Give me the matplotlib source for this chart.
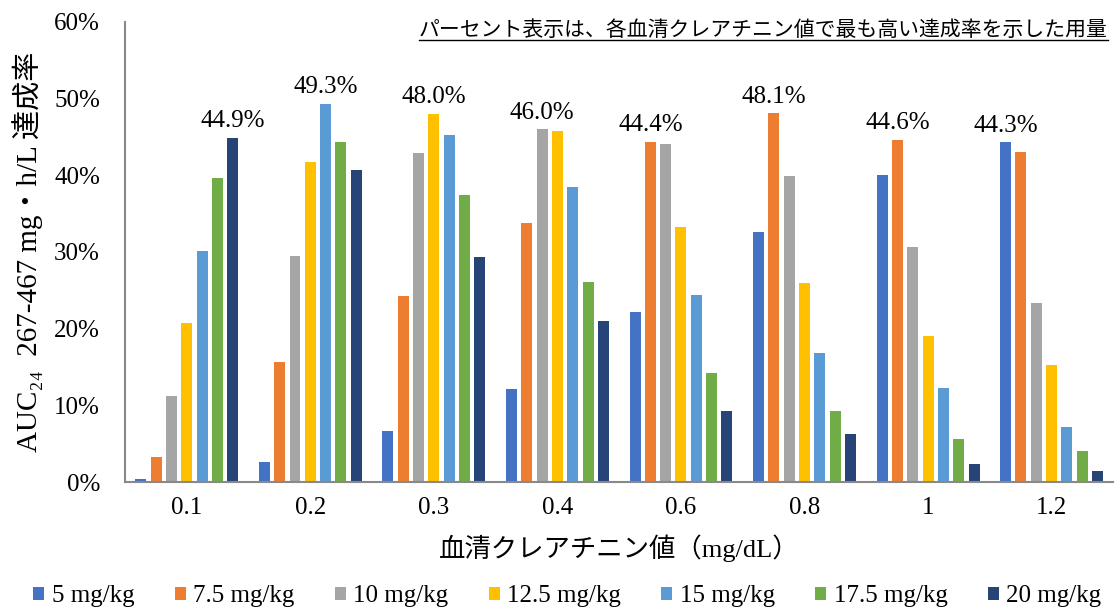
import numpy as np
import matplotlib
matplotlib.use("Agg")
import matplotlib.pyplot as plt
from matplotlib.lines import Line2D

plt.rcParams['font.family'] = ['Liberation Serif', 'DejaVu Serif', 'Noto Sans CJK JP']

# serum creatinine groups (mg/dL)
creatinine = ['0.1', '0.2', '0.3', '0.4', '0.6', '0.8', '1', '1.2']

# attainment rate (%) per dose
doses = ['5 mg/kg', '7.5 mg/kg', '10 mg/kg', '12.5 mg/kg', '15 mg/kg', '17.5 mg/kg', '20 mg/kg']
rate_5 = [0.4, 2.6, 6.7, 12.1, 22.2, 32.6, 40.1, 44.3]
rate_7_5 = [3.3, 15.6, 24.2, 33.8, 44.4, 48.1, 44.6, 43.1]
rate_10 = [11.2, 29.5, 42.9, 46.0, 44.1, 39.9, 30.7, 23.3]
rate_12_5 = [20.7, 41.7, 48.0, 45.8, 33.3, 26.0, 19.1, 15.2]
rate_15 = [30.1, 49.3, 45.2, 38.5, 24.4, 16.8, 12.3, 7.2]
rate_17_5 = [39.7, 44.3, 37.4, 26.1, 14.2, 9.2, 5.6, 4.0]
rate_20 = [44.9, 40.7, 29.3, 21.0, 9.3, 6.2, 2.3, 1.5]

yticks = [0, 10, 20, 30, 40, 50, 60]

series = [rate_5, rate_7_5, rate_10, rate_12_5, rate_15, rate_17_5, rate_20]
colors = ['#4472C4', '#ED7D31', '#A5A5A5', '#FFC000', '#5B9BD5', '#70AD47', '#264478']

fig = plt.figure(figsize=(11.19, 6.09), dpi=100)
ax = fig.add_axes([0.1117, 0.2085, 0.8833, 0.7555])

x = np.arange(len(creatinine))
pitch = 0.124
width = 0.089
for i, (vals, c, lab) in enumerate(zip(series, colors, doses)):
    ax.bar(x + (i - 3) * pitch, vals, width=width, color=c, label=lab)

# label the best dose in each creatinine group
data = np.array(series)
for j in range(len(creatinine)):
    k = int(np.argmax(data[:, j]))
    v = data[k, j]
    ax.annotate(f'{v:.1f}%', (x[j] + (k - 3) * pitch, v), xytext=(0, 4),
                textcoords='offset points', ha='center', va='bottom', fontsize=18)

ax.set_xlim(-0.5, len(creatinine) - 0.5)
ax.set_ylim(0, 60)
ax.set_yticks(yticks)
ax.set_yticklabels([f'{t}%' for t in yticks])
ax.set_xticks(x)
ax.set_xticklabels(creatinine)
ax.tick_params(axis='both', length=0, labelsize=18)
ax.tick_params(axis='y', pad=18)
ax.tick_params(axis='x', pad=11)

for s in ['top', 'right']:
    ax.spines[s].set_visible(False)
for s in ['left', 'bottom']:
    ax.spines[s].set_color('#898989')
    ax.spines[s].set_linewidth(1.5)

ax.set_xlabel('血清クレアチニン値（mg/dL）', fontsize=19, labelpad=11)
ax.set_ylabel('AUC₂₄  267-467 mg・h/L 達成率', fontsize=21, labelpad=8)

fig.legend(loc='lower center', bbox_to_anchor=(0.507, -0.034), ncol=7, frameon=False,
           fontsize=18, handlelength=0.45, handleheight=0.45, handletextpad=0.3,
           columnspacing=1.6)

note = fig.text(1108 / 1119, 1 - 31 / 609, 'パーセント表示は、各血清クレアチニン値で最も高い達成率を示した用量',
                ha='right', va='center', fontsize=15)

# underline the note
fig.canvas.draw()
bb = note.get_window_extent()
yl = 609 - 39.5
fig.add_artist(Line2D([bb.x0 / 1119, bb.x1 / 1119], [yl / 609, yl / 609],
                      transform=fig.transFigure, color='black', linewidth=1.0))

fig.savefig('out.png', dpi=100)
